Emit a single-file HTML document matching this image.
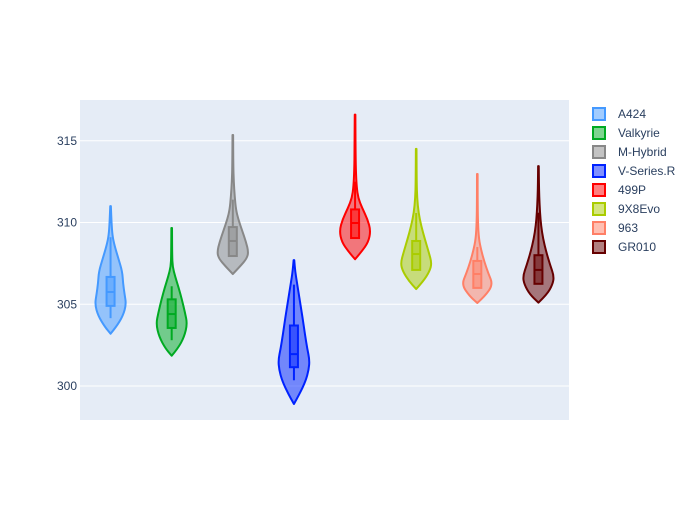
<!DOCTYPE html>
<html><head><meta charset="utf-8"><style>
body{margin:0;background:#fff;font-family:"Liberation Sans",sans-serif;}
svg text{font-family:"Liberation Sans",sans-serif;}
</style></head><body>
<svg id="chart" width="700" height="500" xmlns="http://www.w3.org/2000/svg">
<rect x="80" y="100" width="489" height="320" fill="#e5ecf6"/>
<g id="grid"></g><g id="yticks"></g><g id="marks"></g><g id="legend"></g>
</svg>
<script>
const categories=["A424","Valkyrie","M-Hybrid","V-Series.R","499P","9X8Evo","963","GR010"];
const colors=["#4499ff","#00aa22","#888888","#0022ff","#ff0000","#aacc00","#ff7f66","#660000"];
const yTicks=[300,305,310,315];
const densVals=[
[303.2,303.6,304.3,305.0,305.6,306.3,307.0,307.8,308.6,309.2,310,311],
[301.85,302.3,303,303.8,304.5,305.3,306,306.7,307.3,308,309.66],
[306.85,307.3,307.8,308.2,308.8,309.5,310.2,310.8,311.6,312.5,313.5,315.35],
[298.9,299.5,300.3,301,301.6,302.3,303.2,304.2,305.2,306.3,307,307.7],
[307.75,308.2,308.8,309.5,310.2,310.9,311.5,312.2,313.2,314.5,316.6],
[305.93,306.4,307,307.5,308.2,309,309.8,310.6,311.5,312.5,314.5],
[305.08,305.5,306.2,306.9,307.6,308.3,309,310,311.5,312.97],
[305.1,305.6,306.2,306.7,307.4,308.2,309,309.8,310.6,311.6,312.5,313.45]];
const densities=[
[0,0.35,0.8,1.0,0.9,0.8,0.75,0.5,0.25,0.12,0.06,0.02],
[0,0.4,0.8,1.0,0.85,0.65,0.45,0.22,0.06,0.03,0.02],
[0,0.45,0.9,1.0,0.85,0.6,0.35,0.2,0.12,0.06,0.03,0.02],
[0,0.35,0.75,0.95,1.0,0.85,0.7,0.55,0.38,0.2,0.08,0.02],
[0,0.4,0.85,1.0,0.8,0.45,0.2,0.1,0.05,0.03,0.02],
[0,0.45,0.85,1.0,0.8,0.55,0.32,0.15,0.06,0.03,0.02],
[0,0.5,1.0,0.7,0.45,0.25,0.1,0.04,0.02,0.02],
[0,0.55,0.9,1.0,0.75,0.5,0.3,0.17,0.1,0.05,0.03,0.02]];
const q1=[304.9,303.55,307.95,301.15,309.05,307.1,306.0,306.25];
const medians=[305.75,304.4,308.87,301.95,309.97,308.07,306.85,307.1];
const q3=[306.67,305.3,309.72,303.7,310.8,308.87,307.65,308.0];
const whiskLo=[304.15,302.8,307.9,300.35,309.05,307.1,306.0,306.25];
const whiskHi=[309.1,306.1,311.4,306.2,312.5,310.58,308.5,310.6];

const NS="http://www.w3.org/2000/svg";
const y=v=>386-(v-300)*16.35;
const x=i=>80+489/8*(i+0.5);
const HW=15.6;
function mk(tag,attrs,parent){const e=document.createElementNS(NS,tag);for(const k in attrs)e.setAttribute(k,attrs[k]);parent.appendChild(e);return e;}
const grid=document.getElementById('grid'),yt=document.getElementById('yticks'),marks=document.getElementById('marks'),leg=document.getElementById('legend');
yTicks.forEach(t=>{
  const l=mk('line',{x1:80,x2:569,y1:y(t),y2:y(t),stroke:'#fff','stroke-width':1},grid);
  
  
  const tx=mk('text',{x:77,y:y(t)+4,'text-anchor':'end','font-size':12,fill:'#2a3f5f'},yt);
  tx.textContent=t;
  
  
});
function smooth(pts){let d='M'+pts[0][0]+','+pts[0][1];
  for(let i=1;i<pts.length-1;i++){const mx=(pts[i][0]+pts[i+1][0])/2,my=(pts[i][1]+pts[i+1][1])/2;d+=' Q'+pts[i][0]+','+pts[i][1]+' '+mx+','+my;}
  d+=' L'+pts[pts.length-1][0]+','+pts[pts.length-1][1];return d;}
categories.forEach((c,i)=>{
  const cx=x(i),col=colors[i];
  const g=mk('g',{},marks);
  
  
  const vs=densVals[i],ds=densities[i];
  const right=vs.map((v,k)=>[cx+ds[k]*HW,y(v)]);
  const left=vs.map((v,k)=>[cx-ds[k]*HW,y(v)]).reverse();
  const d=smooth(right)+' '+smooth(left).replace('M','L')+' Z';
  mk('path',{d:d,fill:col,'fill-opacity':0.5,stroke:col,'stroke-width':2,'stroke-linejoin':'round'},g);
  mk('line',{x1:cx,x2:cx,y1:y(whiskLo[i]),y2:y(q1[i]),stroke:col,'stroke-width':2},g);
  mk('line',{x1:cx,x2:cx,y1:y(q3[i]),y2:y(whiskHi[i]),stroke:col,'stroke-width':2},g);
  mk('rect',{x:cx-4,y:y(q3[i]),width:8,height:y(q1[i])-y(q3[i]),fill:col,'fill-opacity':0.5,stroke:col,'stroke-width':2},g);
  mk('line',{x1:cx-4,x2:cx+4,y1:y(medians[i]),y2:y(medians[i]),stroke:col,'stroke-width':2},g);
  const ly=114+i*19;
  const lg=mk('g',{},leg);
  
  
  mk('rect',{x:593,y:ly-6,width:12,height:12,fill:col,'fill-opacity':0.5,stroke:col,'stroke-width':2},lg);
  const t=mk('text',{x:618,y:ly+4,'font-size':12,fill:'#2a3f5f'},lg);
  t.textContent=c;
});
</script>
</body></html>
